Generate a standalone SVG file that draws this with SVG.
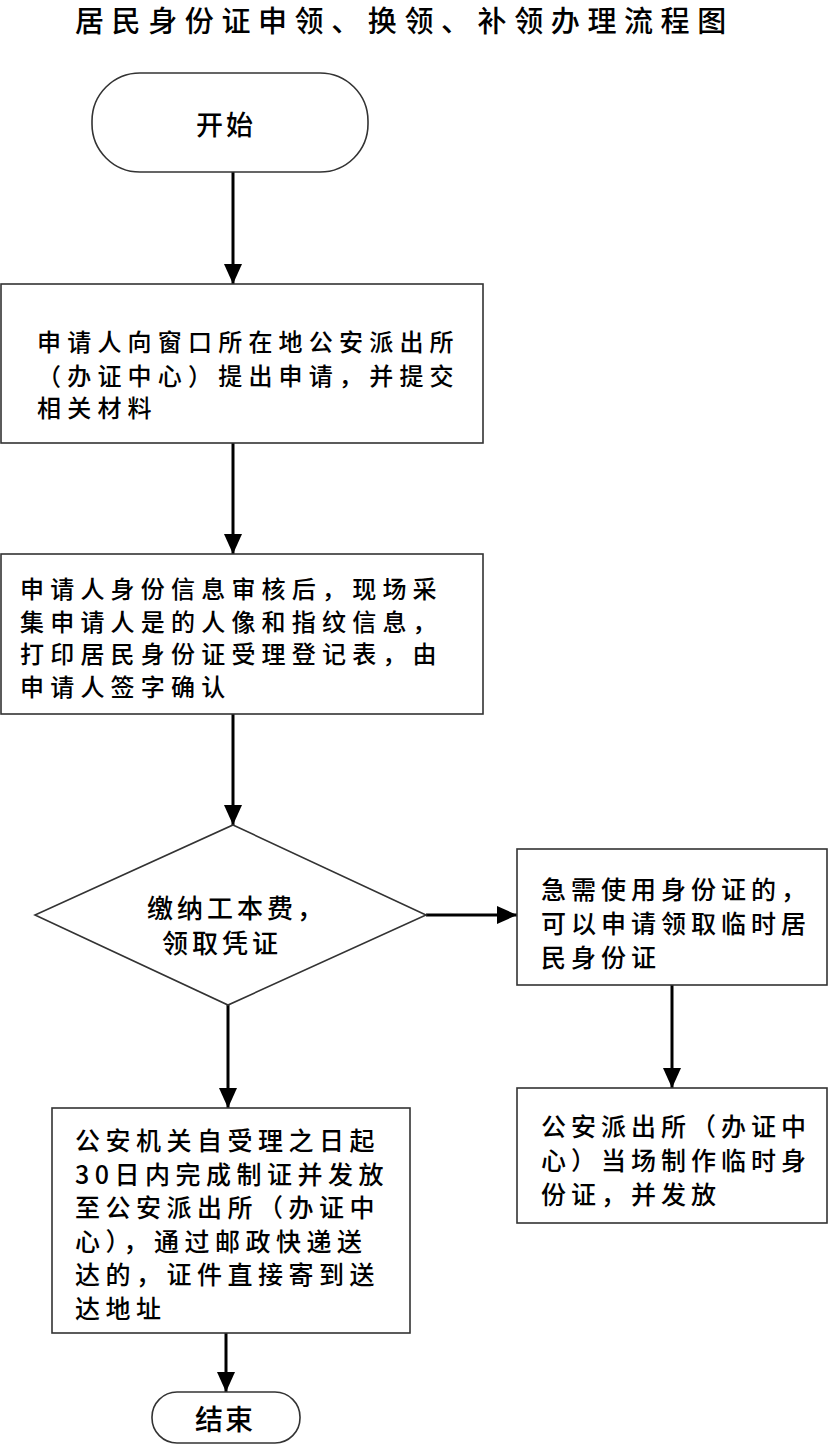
<svg xmlns="http://www.w3.org/2000/svg" width="828" height="1445" viewBox="0 0 828 1445">
<style>
.shape{fill:#fff;stroke:#333;stroke-width:1.6}
.t{font-family:"Noto Sans CJK SC","Noto Sans CJK JP",sans-serif;fill:#000;font-weight:500}
.t24{font-size:24px;letter-spacing:6.2px}
.t26{font-size:26px;letter-spacing:4px}
.t25{font-size:25px;letter-spacing:5.5px}
.t25b{font-size:25px;letter-spacing:5px}
.conn{stroke:#000;stroke-width:3;fill:none}
</style>
<defs>
<marker id="ah" markerUnits="userSpaceOnUse" markerWidth="20" markerHeight="18" refX="20" refY="9" orient="auto">
<path d="M0,0 L20,9 L0,18 z" fill="#000"/>
</marker>
</defs>
<rect width="828" height="1445" fill="#fff"/>
<text class="t" x="75" y="32" style="font-size:29px;letter-spacing:7.6px">居民身份证申领、换领、补领办理流程图</text>

<g id="connectors">
<path class="conn" d="M233,172 V284" marker-end="url(#ah)"/>
<path class="conn" d="M233,443 V554" marker-end="url(#ah)"/>
<path class="conn" d="M233,714 V825" marker-end="url(#ah)"/>
<path class="conn" d="M426,915 H517" marker-end="url(#ah)"/>
<path class="conn" d="M228,1005 V1108" marker-end="url(#ah)"/>
<path class="conn" d="M672,985 V1088" marker-end="url(#ah)"/>
<path class="conn" d="M226,1333 V1392" marker-end="url(#ah)"/>
</g>

<g id="start">
<rect class="shape" x="92" y="73" width="276" height="99" rx="48" ry="48"/>
<text class="t" x="196" y="135" style="font-size:27px;letter-spacing:3px">开始</text>
</g>

<g id="apply">
<rect class="shape" x="1" y="284" width="482" height="159"/>
<text class="t t24" x="37" y="351">申请人向窗口所在地公安派出所</text>
<text class="t t24" x="37" y="385">（办证中心）提出申请，并提交</text>
<text class="t t24" x="37" y="417">相关材料</text>
</g>

<g id="collect">
<rect class="shape" x="1" y="554" width="482" height="160"/>
<text class="t t24" x="20" y="598">申请人身份信息审核后，现场采</text>
<text class="t t24" x="20" y="631">集申请人是的人像和指纹信息，</text>
<text class="t t24" x="20" y="663">打印居民身份证受理登记表，由</text>
<text class="t t24" x="20" y="696">申请人签字确认</text>
</g>

<g id="pay">
<polygon class="shape" points="233,825 426,915 228,1005 35,915"/>
<text class="t t26" x="147" y="918">缴纳工本费，</text>
<text class="t t26" x="162" y="953">领取凭证</text>
</g>

<g id="urgent">
<rect class="shape" x="517" y="849" width="310" height="136"/>
<text class="t t25b" x="541" y="899">急需使用身份证的，</text>
<text class="t t25b" x="541" y="933">可以申请领取临时居</text>
<text class="t t25b" x="541" y="967">民身份证</text>
</g>

<g id="temp">
<rect class="shape" x="517" y="1088" width="310" height="135"/>
<text class="t t25b" x="541" y="1136">公安派出所（办证中</text>
<text class="t t25b" x="541" y="1170">心）当场制作临时身</text>
<text class="t t25b" x="541" y="1204">份证，并发放</text>
</g>

<g id="issue">
<rect class="shape" x="52" y="1108" width="358" height="225"/>
<text class="t t25" x="75" y="1150">公安机关自受理之日起</text>
<text class="t t25" x="75" y="1184">30日内完成制证并发放</text>
<text class="t t25" x="75" y="1217">至公安派出所（办证中</text>
<text class="t t25" x="75" y="1251">心），通过邮政快递送</text>
<text class="t t25" x="75" y="1284">达的，证件直接寄到送</text>
<text class="t t25" x="75" y="1318">达地址</text>
</g>

<g id="end">
<rect class="shape" x="152" y="1392" width="148" height="51" rx="25" ry="25"/>
<text class="t" x="195" y="1430" style="font-size:28px;letter-spacing:2px">结束</text>
</g>
</svg>
